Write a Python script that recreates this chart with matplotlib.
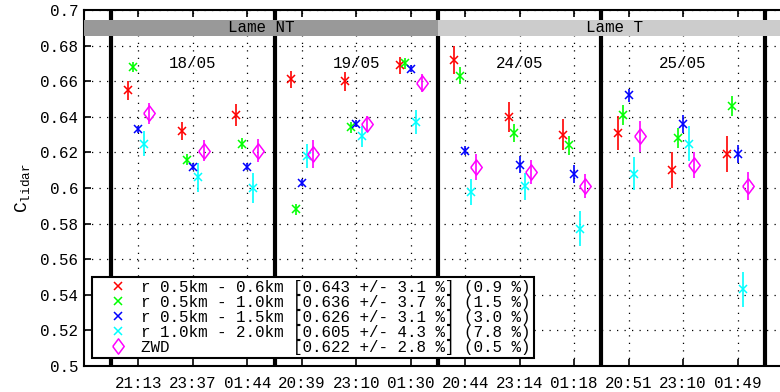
import numpy as np
import matplotlib
matplotlib.use('Agg')
import matplotlib.pyplot as plt
from matplotlib.patches import Rectangle

plt.rcParams['font.family'] = ['Liberation Mono', 'DejaVu Sans Mono']
plt.rcParams['mathtext.fontset'] = 'custom'
plt.rcParams['mathtext.rm'] = 'Liberation Mono'
plt.rcParams['mathtext.tt'] = 'Liberation Mono'

## session times (one tick per session, 3 per night)
time_labels = ['21:13', '23:37', '01:44', '20:39', '23:10', '01:30',
               '20:44', '23:14', '01:18', '20:51', '23:10', '01:49']
days = ['18/05', '19/05', '24/05', '25/05']
phases = ['Lame NT', 'Lame T']

# C_lidar per session, and the error bar half-widths
r_06 = [0.655, 0.632, 0.641, 0.661, 0.660, 0.669, 0.672, 0.640, 0.630, 0.631, 0.610, 0.619]
r_06_err = [0.0053, 0.005, 0.006, 0.005, 0.0053, 0.0047, 0.0079, 0.0084, 0.0087, 0.0096, 0.010, 0.010]
r_10 = [0.668, 0.616, 0.625, 0.588, 0.634, 0.670, 0.663, 0.631, 0.624, 0.641, 0.628, 0.646]
r_10_err = [0.003, 0.003, 0.003, 0.003, 0.003, 0.003, 0.0047, 0.0052, 0.0053, 0.0056, 0.0056, 0.0058]
r_15 = [0.633, 0.612, 0.612, 0.603, 0.636, 0.667, 0.621, 0.613, 0.608, 0.652, 0.636, 0.619]
r_15_err = [0.002, 0.002, 0.002, 0.002, 0.002, 0.002, 0.0025, 0.0047, 0.005, 0.0037, 0.005, 0.0052]
r_20 = [0.625, 0.606, 0.600, 0.618, 0.629, 0.637, 0.598, 0.601, 0.577, 0.608, 0.625, 0.543]
r_20_err = [0.0068, 0.008, 0.0085, 0.0066, 0.006, 0.0066, 0.0073, 0.0075, 0.0098, 0.0094, 0.010, 0.0098]
zwd = [0.642, 0.621, 0.621, 0.619, 0.636, 0.659, 0.612, 0.609, 0.601, 0.629, 0.613, 0.601]
zwd_err = [0.006, 0.0057, 0.0063, 0.0077, 0.0047, 0.0049, 0.0073, 0.0066, 0.0068, 0.0087, 0.0075, 0.0078]

labels = ['r 0.5km - 0.6km [0.643 +/- 3.1 %] (0.9 %)',
          'r 0.5km - 1.0km [0.636 +/- 3.7 %] (1.5 %)',
          'r 0.5km - 1.5km [0.626 +/- 3.1 %] (3.0 %)',
          'r 1.0km - 2.0km [0.605 +/- 4.3 %] (7.8 %)',
          'ZWD             [0.622 +/- 2.8 %] (0.5 %)']

FS = 11.4

fig = plt.figure(figsize=(7.8, 3.92), dpi=100)
ax = fig.add_axes([84 / 780, 26 / 392, 708 / 780, 356 / 392])

x = np.arange(1, len(time_labels) + 1)
diamond = [(-0.75, 0), (0, 1), (0.75, 0), (0, -1), (-0.75, 0)]

series = [(r_06, r_06_err, 'r', 'x', -0.2),
          (r_10, r_10_err, 'lime', 'x', -0.1),
          (r_15, r_15_err, 'b', 'x', 0.0),
          (r_20, r_20_err, 'cyan', 'x', 0.1),
          (zwd, zwd_err, 'magenta', diamond, 0.2)]

handles = []
for (vals, errs, col, mk, dx), lab in zip(series, labels):
    ax.errorbar(x + dx, vals, yerr=errs, fmt='none', ecolor=col, elinewidth=1.2, zorder=4)
    ms = 11 if mk is diamond else 6
    h, = ax.plot(x + dx, vals, linestyle='none', marker=mk, color=col,
                 markerfacecolor='none', markersize=ms, markeredgewidth=1.1, zorder=5, label=lab)
    handles.append(h)

# night separators
for xs in np.arange(0.5, 13, 3):
    ax.axvline(xs, color='k', linewidth=3, zorder=3)

# Lame NT / Lame T bands
ax.add_patch(Rectangle((0, 0.6856), 6.5, 0.0088, facecolor='#999999', edgecolor='none', zorder=6))
ax.add_patch(Rectangle((6.5, 0.6856), 6.5, 0.0088, facecolor='#cccccc', edgecolor='none', zorder=6))
ax.text(3.25, 0.6900, phases[0], ha='center', va='center', fontsize=FS, zorder=7)
ax.text(9.75, 0.6900, phases[1], ha='center', va='center', fontsize=FS, zorder=7)

for i, d in enumerate(days):
    ax.text(2 + 3 * i, 0.670, d, ha='center', va='center', fontsize=FS, zorder=7)

ax.set_xlim(0, 13)
ax.set_ylim(0.5, 0.7)
ax.set_xticks(x)
ax.set_xticklabels(time_labels, fontsize=FS)
yt = np.arange(0.5, 0.7001, 0.02)
ax.set_yticks(yt)
ax.set_yticklabels(['%g' % round(v, 2) for v in yt], fontsize=FS)
ax.tick_params(direction='in', top=True, right=True, length=5, width=1.2)
ax.tick_params(axis='x', pad=7)
ax.tick_params(axis='y', pad=4)
ax.grid(True, color='k', linestyle=(0, (1, 5)), linewidth=0.9)
for s in ax.spines.values():
    s.set_linewidth(1.5)

ax.set_ylabel(r'C$_{\mathtt{lidar}}$', fontsize=13, labelpad=6)

leg = ax.legend(handles=handles, loc='lower left', fontsize=FS, frameon=True, fancybox=False,
                edgecolor='k', framealpha=1, borderaxespad=0.5, handlelength=2.9,
                handletextpad=0.0, labelspacing=0.0, borderpad=0.2, markerscale=1.0)
leg.get_frame().set_linewidth(1.5)
leg.set_zorder(10)

plt.savefig('out.png', dpi=100)
